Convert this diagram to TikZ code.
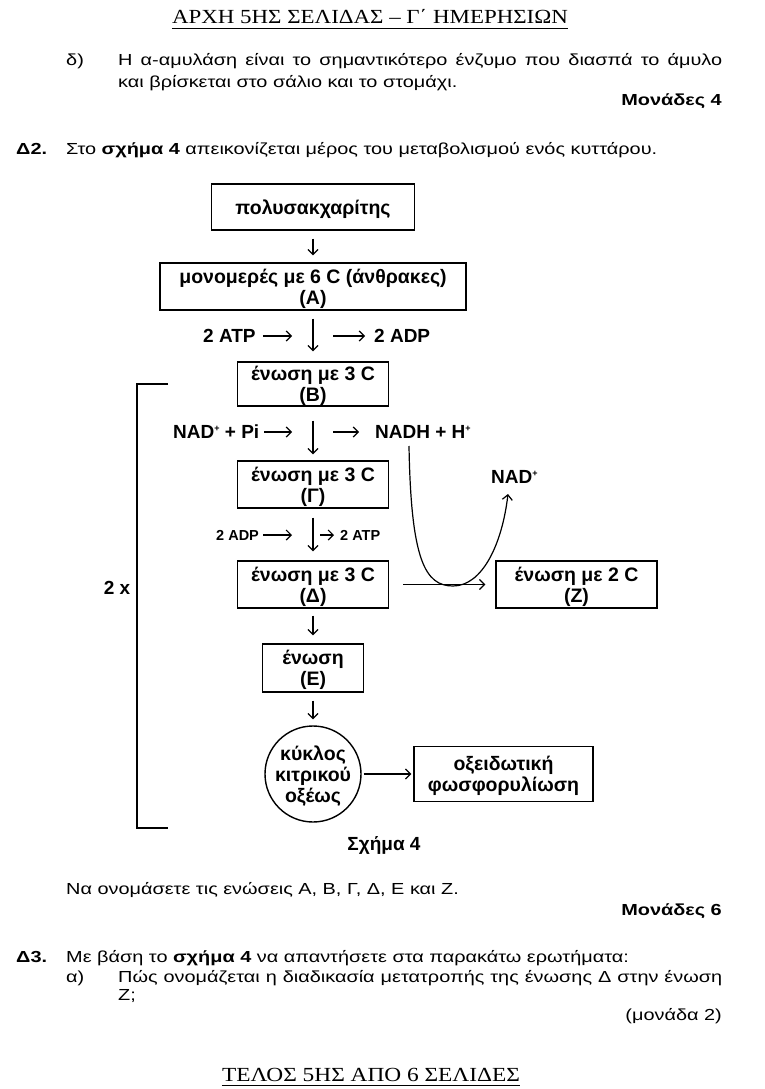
\documentclass[tikz,border=0pt]{standalone}
\usepackage{fontspec}
\setmainfont{Liberation Sans}
\newfontfamily\hdrfont{Liberation Serif}
\usepackage{graphicx}
\usetikzlibrary{arrows.meta}
\newsavebox\fitbox
\newlength\fitlen
\newcommand\bodyfnt{\fontsize{16}{20}\selectfont}
\newcommand\fitto[2]{\sbox\fitbox{#2}\setlength\fitlen{\wd\fitbox}\pgfmathsetmacro\fitsx{#1/\the\fitlen}\scalebox{\fitsx}[1]{\usebox\fitbox}}
\newcommand\bl[1]{\scalebox{\bs}[1]{#1}}
\newcommand\bj[2]{\pgfmathsetlengthmacro\jw{#1/\bs}\scalebox{\bs}[1]{\makebox[\jw][s]{#2}}}
\newcommand\plussup{\raisebox{7.5pt}{\fontsize{9}{9}\selectfont +}}
\tikzset{
  body/.style={font=\bodyfnt, inner sep=0pt, anchor=base west},
  bodyr/.style={font=\bodyfnt, inner sep=0pt, anchor=base east},
  hdr/.style={font=\hdrfont\fontsize{20}{22}\selectfont, inner sep=0pt, anchor=base},
  box/.style={draw, line width=1.4pt, inner sep=0pt, align=center, text depth=0pt, font=\bfseries\fontsize{19.5}{21}\selectfont},
  arr/.style={line width=1.2pt, -{Straight Barb[length=5pt,width=10pt,line width=1.2pt]}},
  lbl/.style={font=\bfseries\fontsize{19}{21}\selectfont, inner sep=0pt},
  slbl/.style={font=\bfseries\fontsize{14.5}{16}\selectfont, inner sep=0pt},
  bracket/.style={line width=1.4pt}
}
\begin{document}
\sbox\fitbox{\bodyfnt Στο \textbf{σχήμα 4} απεικονίζεται μέρος του μεταβολισμού ενός κυττάρου.}%
\setlength\fitlen{\wd\fitbox}%
\pgfmathsetmacro\bs{591pt/\the\fitlen}%
\begin{tikzpicture}[x=1pt,y=-1pt]
\useasboundingbox (0,0) rectangle (765,1089);
% header and footer
\node[hdr] (hdr) at (370,24) {\fitto{396pt}{ΑΡΧΗ 5ΗΣ ΣΕΛΙΔΑΣ – Γ΄ ΗΜΕΡΗΣΙΩΝ}};
\draw[line width=0.8pt] ([yshift=-4pt]hdr.base west) -- ([yshift=-4pt]hdr.base east);
\node[hdr] (ftr) at (371,1081) {\fitto{298pt}{ΤΕΛΟΣ 5ΗΣ ΑΠΟ 6 ΣΕΛΙΔΕΣ}};
\draw[line width=0.8pt] ([yshift=-4pt]ftr.base west) -- ([yshift=-4pt]ftr.base east);
% body text
\node[body] (d1) at (66,66) {\bl{δ)}};
\node[body] (l1) at (118,66) {\bj{604pt}{Η α-αμυλάση είναι το σημαντικότερο ένζυμο που διασπά το άμυλο}};
\node[body] (l2) at (118,88) {\bl{και βρίσκεται στο σάλιο και το στομάχι.}};
\node[bodyr] (m4) at (722,106) {\bl{\textbf{Μονάδες 4}}};
\node[body] (d2) at (16,154) {\bl{\textbf{Δ2.}}};
\node[body] (l3) at (66,154) {\bl{Στο \textbf{σχήμα 4} απεικονίζεται μέρος του μεταβολισμού ενός κυττάρου.}};
\node[body] (l4) at (66,894) {\bl{Να ονομάσετε τις ενώσεις Α, Β, Γ, Δ, Ε και Ζ.}};
\node[bodyr] (m6) at (722,915) {\bl{\textbf{Μονάδες 6}}};
\node[body] (d3) at (16,962) {\bl{\textbf{Δ3.}}};
\node[body] (l5) at (66,962) {\bl{Με βάση το \textbf{σχήμα 4} να απαντήσετε στα παρακάτω ερωτήματα:}};
\node[body] (a1) at (66,982) {\bl{α)}};
\node[body] (l6) at (118,982) {\bj{604pt}{Πώς ονομάζεται η διαδικασία μετατροπής της ένωσης Δ στην ένωση}};
\node[body] (l7) at (118,1000) {\bl{Ζ;}};
\node[bodyr] (m2) at (722,1020) {\bl{(μονάδα 2)}};
% diagram boxes
\node[box, minimum width=203pt, minimum height=46pt] (P) at (313,207) {πολυσακχαρίτης};
\node[box, minimum width=306pt, minimum height=47pt] (A) at (313,286.5) {μονομερές με 6 C (άνθρακες)\\(Α)};
\node[box, minimum width=151pt, minimum height=44pt] (B) at (313,384) {ένωση με 3 C\\(Β)};
\node[box, minimum width=151pt, minimum height=47pt] (G) at (313,484.5) {ένωση με 3 C\\(Γ)};
\node[box, minimum width=151pt, minimum height=47pt] (D) at (313,584.5) {ένωση με 3 C\\(Δ)};
\node[box, minimum width=101pt, minimum height=48pt] (E) at (313,668) {ένωση\\(Ε)};
\node[box, circle, minimum size=96pt] (C) at (313,774) {κύκλος\\κιτρικού\\οξέως};
\node[box, minimum width=179pt, minimum height=55pt] (OX) at (503.5,774) {οξειδωτική\\φωσφορυλίωση};
\node[box, minimum width=161pt, minimum height=47pt] (Z) at (576.5,584.5) {ένωση με 2 C\\(Ζ)};
% main chain arrows
\draw[arr, shorten <=8pt, shorten >=7pt] (P) -- (A);
\draw[arr, shorten <=8pt, shorten >=10pt] (A) -- (B);
\draw[arr, shorten <=14pt, shorten >=6pt] (B) -- (G);
\draw[arr, shorten <=9pt, shorten >=9pt] (G) -- (D);
\draw[arr, shorten <=7pt, shorten >=8pt] (D) -- (E);
\draw[arr, shorten <=8pt, shorten >=6pt] (E) -- (C);
\draw[arr, shorten <=2pt, shorten >=2pt] (C) -- (OX);
\draw[arr, shorten <=14pt, shorten >=10pt] (D) -- (Z);
% side labels
\node[lbl, anchor=west] (atp1) at (203,336) {2 ATP};
\coordinate (atp1e) at (292,336);
\draw[arr] ([xshift=7pt]atp1.east) -- (atp1e);
\coordinate (adp1s) at (333,336);
\node[lbl, anchor=west] (adp1) at (374,336) {2 ADP};
\draw[arr] (adp1s) -- ([xshift=-9pt]adp1.west);
\node[lbl, anchor=west] (nad) at (173,432) {NAD\plussup\ + Pi};
\coordinate (nade) at (292,432);
\draw[arr] ([xshift=5pt]nad.east) -- (nade);
\coordinate (nadhs) at (333,432);
\node[lbl, anchor=west] (nadh) at (375,432) {NADH + H\plussup};
\draw[arr] (nadhs) -- ([xshift=-16pt]nadh.west);
\node[slbl, anchor=west] (adp2) at (216,535) {2 ADP};
\coordinate (adp2e) at (292,535);
\draw[arr] ([xshift=4pt]adp2.east) -- (adp2e);
\coordinate (atp2s) at (320,535);
\node[slbl, anchor=west] (atp2) at (340,535) {2 ATP};
\draw[arr] (atp2s) -- ([xshift=-6pt]atp2.west);
\node[lbl, anchor=west] (nadp) at (491,477) {NAD\plussup};
\coordinate (cs) at (409,446);
\coordinate (cb) at (453,586);
\coordinate (ce) at (508,494);
\draw[arr] (cs) .. controls (411,560) and (425,586) .. (cb) .. controls (482,586) and (502,545) .. (ce);
% bracket and caption
\draw[bracket] (168,384) -- (137,384) -- (137,828) -- (168,828);
\node[lbl] (two) at (117,588) {2 x};
\node[lbl] (cap) at (384,845) {Σχήμα 4};
\end{tikzpicture}
\end{document}
